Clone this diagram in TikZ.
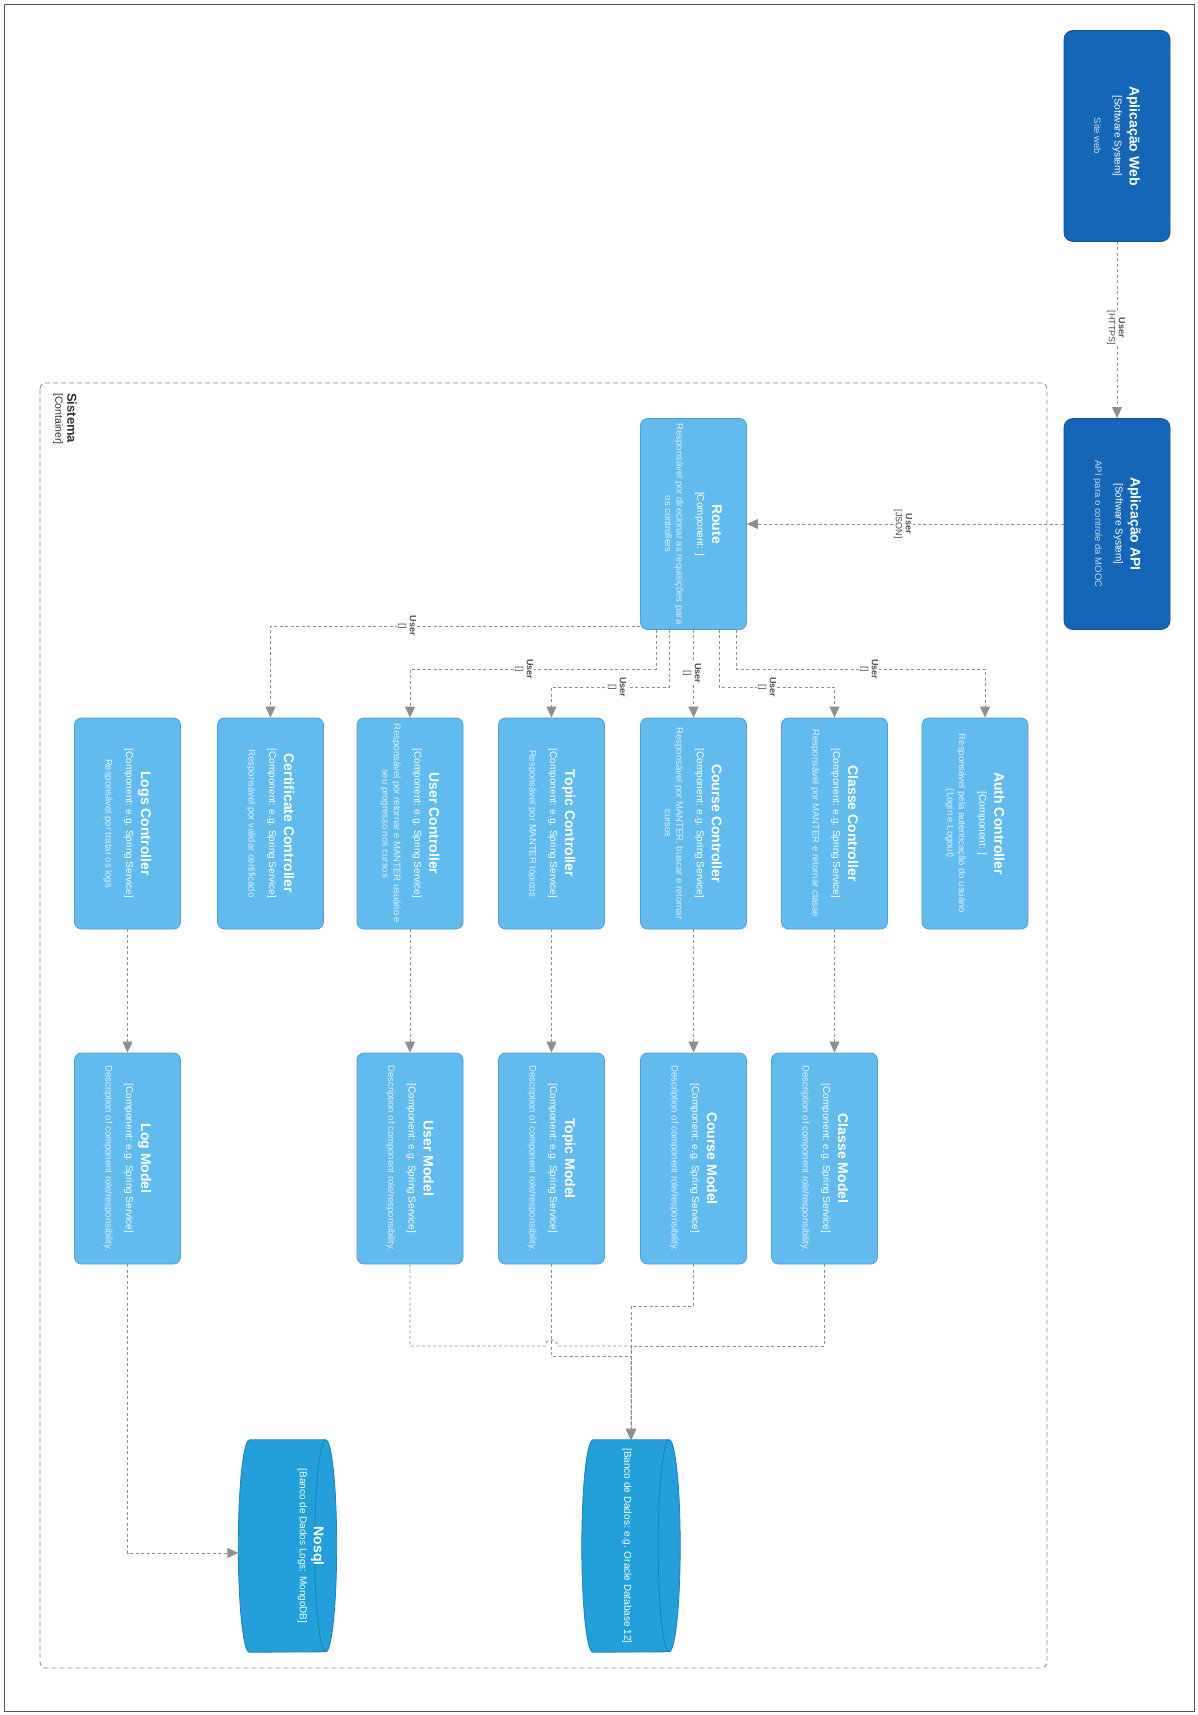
\documentclass[tikz,border=0pt]{standalone}
\usepackage{fontspec}
\setmainfont{Liberation Sans}
\usepackage{graphicx}
\usetikzlibrary{arrows.meta,calc}
\definecolor{appfill}{HTML}{1566B7}
\definecolor{appdraw}{HTML}{0F5294}
\definecolor{appdesc}{HTML}{C4D9EF}
\definecolor{compfill}{HTML}{62BBEF}
\definecolor{compdraw}{HTML}{4C9ED5}
\definecolor{compdesc}{HTML}{E2F2FC}
\definecolor{dbfill}{HTML}{23A0D9}
\definecolor{dbdraw}{HTML}{1B80B2}
\definecolor{connc}{HTML}{8F8F8F}
\definecolor{lbltext}{HTML}{4D4D4D}
\definecolor{framec}{HTML}{555555}

\newcommand{\bxt}[4]{\rotatebox{-90}{\parbox{205pt}{\centering\color{white}%
{\fontsize{14}{16}\selectfont\bfseries #1\par}\vspace{3pt}%
{\fontsize{10}{12}\selectfont #2\par}\vspace{9pt}%
{\fontsize{9.5}{11.5}\selectfont\color{#4}#3\par}}}}

\newcommand{\cylinderat}[1]{%
  \path[fill=dbfill, draw=dbdraw, line width=0.8pt]
    ($(#1.north west)+(11,0)$) -- ($(#1.north east)+(-11,0)$)
    arc[start angle=90, end angle=-90, x radius=11pt, y radius=106pt]
    -- ($(#1.south west)+(11,0)$)
    arc[start angle=270, end angle=90, x radius=11pt, y radius=106pt] -- cycle;
  \draw[dbdraw, line width=0.8pt] ($(#1.north east)+(-11,0)$)
    arc[start angle=90, end angle=270, x radius=11pt, y radius=106pt];}

\begin{document}
\begin{tikzpicture}[x=1pt, y=-1pt,
  appbox/.style={rectangle, rounded corners=9pt, fill=appfill, draw=appdraw, line width=0.8pt,
    minimum width=106pt, minimum height=211pt, inner sep=0pt},
  compbox/.style={rectangle, rounded corners=7pt, fill=compfill, draw=compdraw, line width=0.8pt,
    minimum width=106pt, minimum height=211pt, inner sep=0pt},
  dbbox/.style={rectangle, minimum width=98pt, minimum height=212pt, inner sep=0pt},
  conn/.style={draw=connc, line width=0.9pt, dash pattern=on 3pt off 2.5pt,
    -{Triangle[length=11pt, width=10pt]}},
  lbl/.style={rotate=-90, fill=white, inner sep=1pt, align=center, text=lbltext,
    font=\fontsize{9}{10}\selectfont},
  dbtext/.style={rotate=-90, inner sep=0pt, text=white, align=center}
]
\useasboundingbox (0,0) rectangle (1198,1715);
\fill[white] (0,0) rectangle (1198,1715);
\draw[framec, line width=0.8pt] (4,4) rectangle (1194,1711);

% container
\draw[connc, line width=0.9pt, dash pattern=on 5pt off 3pt, rounded corners=6pt] (40,383) rectangle (1047,1668);
\node[rotate=-90, anchor=north west, align=left, inner sep=0pt, text=black!80] (sist) at (77,393)
  {{\fontsize{13}{15}\selectfont\bfseries Sistema}\\{\fontsize{10.5}{13}\selectfont [Container]}};

% external systems
\node[appbox] (web) at (1117,136) {\bxt{Aplicação Web}{[Software System]}{Site web}{appdesc}};
\node[appbox] (api) at (1117,524) {\bxt{Aplicação API}{[Software System]}{API para o controle da MOOC}{appdesc}};

% route
\node[compbox] (route) at (693.5,524) {\bxt{Route}{[Component: ]}{Responsável por direcionar as requisições para\\os controllers}{compdesc}};

% controllers
\node[compbox] (auth) at (975,823.5) {\bxt{Auth Controller}{[Component: ]}{Responsável pela autenticação do usuário\\(Login e Logout)}{compdesc}};
\node[compbox] (classec) at (834.5,823.5) {\bxt{Classe Controller}{[Component: e.g. Spring Service]}{Responsável por MANTER e retornar classe}{compdesc}};
\node[compbox] (coursec) at (693.5,823.5) {\bxt{Course Controller}{[Component: e.g. Spring Service]}{Responsável por MANTER, buscar e retornar\\cursos}{compdesc}};
\node[compbox] (topicc) at (551.5,823.5) {\bxt{Topic Controller}{[Component: e.g. Spring Service]}{Responsável por MANTER tópicos}{compdesc}};
\node[compbox] (userc) at (410,823.5) {\bxt{User Controller}{[Component: e.g. Spring Service]}{Responsável por retornar e MANTER usuário e\\seu progresso nos cursos}{compdesc}};
\node[compbox] (certc) at (270.5,823.5) {\bxt{Certificate Controller}{[Component: e.g. Spring Service]}{Responsável por validar certificado}{compdesc}};
\node[compbox] (logsc) at (127.5,823.5) {\bxt{Logs Controller}{[Component: e.g. Spring Service]}{Responsável por tratar os logs}{compdesc}};

% models
\node[compbox] (classem) at (824.5,1158.5) {\bxt{Classe Model}{[Component: e.g. Spring Service]}{Description of component role/responsibility.}{compdesc}};
\node[compbox] (coursem) at (693.5,1158.5) {\bxt{Course Model}{[Component: e.g. Spring Service]}{Description of component role/responsibility.}{compdesc}};
\node[compbox] (topicm) at (551.5,1158.5) {\bxt{Topic Model}{[Component: e.g. Spring Service]}{Description of component role/responsibility.}{compdesc}};
\node[compbox] (userm) at (410,1158.5) {\bxt{User Model}{[Component: e.g. Spring Service]}{Description of component role/responsibility.}{compdesc}};
\node[compbox] (logm) at (127.5,1158.5) {\bxt{Log Model}{[Component: e.g. Spring Service]}{Description of component role/responsibility.}{compdesc}};

% databases
\node[dbbox] (db) at (631,1546) {};
\cylinderat{db}
\node[dbtext, font=\fontsize{10}{12}\selectfont] (dbt) at (627,1546) {[Banco de Dados: e.g. Oracle Database 12]};
\node[dbbox] (nosql) at (287.5,1546) {};
\cylinderat{nosql}
\node[dbtext] (nosqlt) at (311,1546) {{\fontsize{14}{16}\selectfont\bfseries Nosql}\\[2pt]{\fontsize{10}{12}\selectfont [Banco de Dados Logs: MongoDB]}};

% connectors
\draw[conn] (web.south) -- (api.north);
\node[lbl] (l1) at (1116,328) {\textbf{User}\\{[HTTPS]}};
\draw[conn] (api.west) -- (route.east);
\node[lbl] (l2) at (903,524) {\textbf{User}\\{[JSON]}};

\draw[conn] (route.west |- 0,626) -- (certc.north |- 0,626) -- (certc.north);
\node[lbl] (l3) at (407,626) {\textbf{User}\\{[]}};
\draw[conn] (656,0 |- route.south) -- (656,669) -- (userc.north |- 0,669) -- (userc.north);
\node[lbl] (l4) at (524,669) {\textbf{User}\\{[]}};
\draw[conn] (669,0 |- route.south) -- (669,687) -- (topicc.north |- 0,687) -- (topicc.north);
\node[lbl] (l5) at (617,687) {\textbf{User}\\{[]}};
\draw[conn] (route.south) -- (coursec.north);
\node[lbl] (l6) at (692,673) {\textbf{User}\\{[]}};
\draw[conn] (719,0 |- route.south) -- (719,687) -- (classec.north |- 0,687) -- (classec.north);
\node[lbl] (l7) at (767,687) {\textbf{User}\\{[]}};
\draw[conn] (736,0 |- route.south) -- (736,669) -- (985,669) -- (985,0 |- auth.north);
\node[lbl] (l8) at (869,669) {\textbf{User}\\{[]}};

% controllers to models
\draw[conn] (classec.south) -- (classec.south |- classem.north);
\draw[conn] (coursec.south) -- (coursem.north);
\draw[conn] (topicc.south) -- (topicm.north);
\draw[conn] (userc.south) -- (userm.north);
\draw[conn] (logsc.south) -- (logm.north);

% models to databases
\draw[conn] (classem.south) -- (classem.south |- 0,1346) -- (db.north |- 0,1346) -- (db.north);
\draw[conn] (coursem.south) -- (coursem.south |- 0,1306) -- (db.north |- 0,1306) -- (db.north);
\draw[conn] (topicm.south) -- (topicm.south |- 0,1356) -- (db.north |- 0,1356) -- (db.north);
\draw[conn] (userm.south) -- (userm.south |- 0,1346) -- (545.5,1346)
  arc[start angle=180, end angle=0, radius=6pt] -- (db.north |- 0,1346) -- (db.north);
\draw[conn] (logm.south) -- (logm.south |- 0,1553) -- (nosql.west |- 0,1553);
\end{tikzpicture}
\end{document}
